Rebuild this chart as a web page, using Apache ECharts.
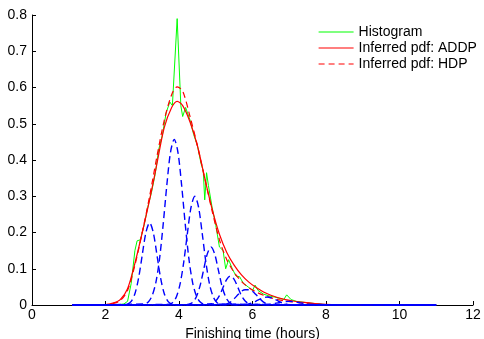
<!DOCTYPE html>
<html>
<head>
<meta charset="utf-8">
<script src="https://cdn.jsdelivr.net/npm/echarts@6/dist/echarts.min.js"></script>
<style>
  html, body { margin: 0; padding: 0; background: #fff; }
  #chart { width: 484px; height: 339px; }
</style>
</head>
<body>
<div id="chart"></div>
<script>
// histogram (green)
const histX = [1.1, 2.3, 2.5, 2.6, 2.7, 2.8, 2.86, 2.95, 3.05, 3.15, 3.25, 3.35, 3.45, 3.55, 3.65, 3.75, 3.82, 3.95, 4.05, 4.1, 4.18, 4.3, 4.4, 4.5, 4.6, 4.66, 4.7, 4.75, 4.8, 4.9, 5.0, 5.1, 5.2, 5.27, 5.35, 5.45, 5.55, 5.65, 5.75, 5.88, 6.0, 6.07, 6.15, 6.3, 6.45, 6.6, 6.75, 6.85, 6.93, 7.05, 7.2, 7.35, 7.5, 7.7, 7.9, 8.1, 11.0]
const histY = [0, 0, 0.003, 0.01, 0.06, 0.15, 0.177, 0.18, 0.22, 0.27, 0.31, 0.36, 0.43, 0.47, 0.53, 0.56, 0.55, 0.79, 0.55, 0.52, 0.545, 0.51, 0.47, 0.44, 0.39, 0.37, 0.29, 0.365, 0.33, 0.27, 0.22, 0.16, 0.15, 0.1, 0.125, 0.1, 0.08, 0.078, 0.06, 0.05, 0.04, 0.055, 0.04, 0.03, 0.025, 0.022, 0.018, 0.015, 0.028, 0.015, 0.01, 0.008, 0.006, 0.004, 0.002, 0, 0]

// inferred pdf, ADDP (red solid)
const addpX = [1.1, 2.0, 2.2, 2.4, 2.6, 2.8, 3.0, 3.2, 3.4, 3.6, 3.8, 3.95, 4.1, 4.3, 4.5, 4.7, 4.9, 5.1, 5.3, 5.5, 5.7, 5.9, 6.1, 6.3, 6.5, 6.7, 6.9, 7.1, 7.4, 7.7, 8.0, 8.5, 11.0]
const addpY = [0, 0.001, 0.005, 0.015, 0.045, 0.115, 0.2, 0.29, 0.39, 0.49, 0.545, 0.562, 0.55, 0.505, 0.44, 0.35, 0.265, 0.195, 0.145, 0.11, 0.083, 0.063, 0.048, 0.036, 0.027, 0.02, 0.015, 0.011, 0.007, 0.004, 0.002, 0.0005, 0]

// inferred pdf, HDP (red dashed)
const hdpX = [1.1, 2.0, 2.2, 2.4, 2.6, 2.8, 3.0, 3.2, 3.4, 3.6, 3.8, 3.95, 4.1, 4.3, 4.5, 4.7, 4.9, 5.1, 5.3, 5.5, 5.7, 5.9, 6.1, 6.3, 6.5, 6.7, 6.9, 7.2, 7.5, 8.0, 8.5, 11.0]
const hdpY = [0, 0.001, 0.004, 0.012, 0.04, 0.11, 0.2, 0.3, 0.41, 0.51, 0.58, 0.602, 0.59, 0.52, 0.44, 0.35, 0.26, 0.18, 0.125, 0.09, 0.065, 0.048, 0.036, 0.027, 0.02, 0.015, 0.011, 0.007, 0.004, 0.001, 0, 0]

// mixture components (blue dashed)
const comp1X = [1.1, 2.5, 2.6, 2.7, 2.8, 2.9, 3.0, 3.1, 3.2, 3.3, 3.4, 3.5, 3.6, 3.7, 3.8, 3.9, 11.0]
const comp1Y = [0, 0, 0.0025, 0.01, 0.031, 0.074, 0.138, 0.2, 0.227, 0.2, 0.138, 0.074, 0.031, 0.01, 0.0025, 0, 0]
const comp2X = [1.1, 3.07, 3.17, 3.27, 3.37, 3.47, 3.57, 3.67, 3.77, 3.87, 3.97, 4.07, 4.17, 4.27, 4.37, 4.47, 4.57, 4.67, 11.0]
const comp2Y = [0, 0.003, 0.009, 0.026, 0.062, 0.127, 0.223, 0.332, 0.422, 0.457, 0.422, 0.332, 0.223, 0.127, 0.062, 0.026, 0.009, 0.003, 0]
const comp3X = [1.1, 3.73, 3.83, 3.93, 4.03, 4.13, 4.23, 4.33, 4.43, 4.53, 4.63, 4.73, 4.83, 4.93, 5.03, 5.13, 11.0]
const comp3Y = [0, 0.002, 0.007, 0.023, 0.058, 0.119, 0.199, 0.271, 0.3, 0.271, 0.199, 0.119, 0.058, 0.023, 0.007, 0.002, 0]
const comp4X = [1.1, 4.17, 4.27, 4.37, 4.47, 4.57, 4.67, 4.77, 4.87, 4.97, 5.07, 5.17, 5.27, 5.37, 5.47, 5.57, 11.0]
const comp4Y = [0, 0.0004, 0.002, 0.007, 0.022, 0.052, 0.097, 0.141, 0.16, 0.141, 0.097, 0.052, 0.022, 0.007, 0.002, 0.0004, 0]
const comp5X = [1.1, 4.8, 4.9, 5.0, 5.1, 5.2, 5.3, 5.4, 5.5, 5.6, 5.7, 5.8, 5.9, 6.0, 11.0]
const comp5Y = [0, 0.001, 0.0035, 0.011, 0.026, 0.049, 0.071, 0.08, 0.071, 0.049, 0.026, 0.011, 0.0035, 0.001, 0]
const comp6X = [1.1, 5.2, 5.3, 5.4, 5.5, 5.6, 5.7, 5.8, 5.9, 6.0, 6.1, 6.2, 6.3, 6.4, 6.5, 6.6, 11.0]
const comp6Y = [0, 0.001, 0.003, 0.008, 0.017, 0.028, 0.038, 0.042, 0.042, 0.038, 0.028, 0.017, 0.008, 0.003, 0.001, 0, 0]
const comp7X = [1.1, 5.8, 5.9, 6.0, 6.1, 6.2, 6.3, 6.4, 6.5, 6.6, 6.7, 6.8, 6.9, 7.0, 11.0]
const comp7Y = [0, 0.001, 0.003, 0.006, 0.011, 0.016, 0.02, 0.022, 0.02, 0.016, 0.011, 0.006, 0.003, 0.001, 0]
const comp8X = [1.1, 6.4, 6.5, 6.6, 6.7, 6.8, 6.9, 7.0, 7.1, 7.2, 7.3, 7.4, 7.5, 7.6, 11.0]
const comp8Y = [0, 0.0013, 0.0025, 0.0041, 0.006, 0.008, 0.0095, 0.01, 0.0095, 0.008, 0.006, 0.0041, 0.0025, 0.0013, 0]

const components = [
  [comp1X, comp1Y], [comp2X, comp2Y], [comp3X, comp3Y], [comp4X, comp4Y],
  [comp5X, comp5Y], [comp6X, comp6Y], [comp7X, comp7Y], [comp8X, comp8Y]
]

const font = 'Liberation Sans, Arial, Helvetica, sans-serif'
const pairs = (xs, ys) => xs.map((x, i) => [x, ys[i]])

const chart = echarts.init(document.getElementById('chart'), null, { renderer: 'canvas' })

const series = [
  {
    name: 'Histogram',
    type: 'line',
    symbol: 'none',
    lineStyle: { color: '#00ff00', width: 1 },
    itemStyle: { color: '#00ff00' },
    data: pairs(histX, histY)
  },
  {
    name: 'Inferred pdf: ADDP',
    type: 'line',
    symbol: 'none',
    smooth: 0.3,
    lineStyle: { color: '#ff0000', width: 1.2 },
    itemStyle: { color: '#ff0000' },
    data: pairs(addpX, addpY)
  },
  {
    name: 'Inferred pdf: HDP',
    type: 'line',
    symbol: 'none',
    smooth: 0.3,
    lineStyle: { color: '#ff0000', width: 1.2, type: [6, 4] },
    itemStyle: { color: '#ff0000' },
    data: pairs(hdpX, hdpY)
  }
]

components.forEach(([xs, ys], i) => {
  series.push({
    name: 'comp' + (i + 1),
    type: 'line',
    symbol: 'none',
    smooth: 0.3,
    silent: true,
    lineStyle: { color: '#0000ff', width: 1.4, type: [7, 4], dashOffset: i * 2.5 },
    data: pairs(xs, ys)
  })
})

chart.setOption({
  animation: false,
  backgroundColor: '#fff',
  textStyle: { fontFamily: font },
  grid: { left: 32, right: 11, top: 15, bottom: 34, outerBoundsMode: 'none', containLabel: false },
  legend: {
    data: ['Histogram', 'Inferred pdf: ADDP', 'Inferred pdf: HDP'],
    orient: 'vertical',
    left: 313,
    top: 20,
    itemWidth: 35,
    itemHeight: 12,
    itemGap: 2,
    itemStyle: { opacity: 0 },
    lineStyle: { width: 1.2 },
    textStyle: { fontFamily: font, fontSize: 14, color: '#000' }
  },
  xAxis: {
    type: 'value',
    min: 0,
    max: 12,
    interval: 2,
    name: 'Finishing time (hours)',
    nameLocation: 'middle',
    nameGap: 19,
    nameTextStyle: { fontFamily: font, fontSize: 14, color: '#000' },
    axisLine: { onZero: false, lineStyle: { color: '#000', width: 1 } },
    axisTick: { inside: true, length: 4, lineStyle: { color: '#000' } },
    axisLabel: { fontFamily: font, fontSize: 14, color: '#000', margin: 3 },
    splitLine: { show: false }
  },
  yAxis: {
    type: 'value',
    min: 0,
    max: 0.8,
    interval: 0.1,
    axisLine: { show: true, onZero: false, lineStyle: { color: '#000', width: 1 } },
    axisTick: { show: true, inside: true, length: 4, lineStyle: { color: '#000' } },
    axisLabel: { fontFamily: font, fontSize: 14, color: '#000', margin: 5 },
    splitLine: { show: false }
  },
  series
})
</script>
</body>
</html>
